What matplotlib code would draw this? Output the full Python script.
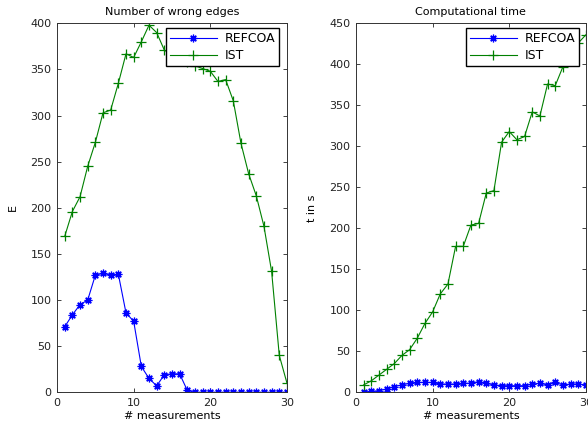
import numpy as np
import matplotlib.pyplot as plt

plt.rcParams['font.family'] = ['DejaVu Sans']

# --- DATA ---
measurements = list(range(1, 31))

edges_refcoa = [71, 84, 95, 100, 127, 129, 127, 128, 86, 77,
                28, 15, 7, 19, 20, 20, 2, 0, 0, 0,
                0, 0, 0, 0, 0, 0, 0, 0, 0, 0]
edges_ist = [169, 196, 212, 245, 271, 303, 306, 335, 367, 363,
             380, 398, 390, 371, 366, 362, 358, 354, 351, 348,
             337, 339, 316, 270, 237, 213, 180, 131, 40, 10]

time_refcoa = [0, 1, 2, 4, 7, 9, 11, 12, 12, 12,
               10, 10, 10, 11, 11, 13, 11, 9, 8, 8,
               8, 8, 10, 11, 9, 12, 9, 10, 10, 9]
time_ist = [9, 14, 21, 28, 35, 45, 52, 66, 84, 98,
            120, 132, 178, 178, 204, 206, 243, 246, 305, 318,
            308, 312, 342, 337, 376, 374, 397, 412, 426, 436]

# matlab-style asterisk marker
ASTERISK = (8, 2, 0)

# --- PLOTTING ---
fig = plt.figure(figsize=(5.88, 4.30), dpi=100)
ax1 = fig.add_axes([0.097, 0.0877, 0.391, 0.858])
ax2 = fig.add_axes([0.6054, 0.0877, 0.391, 0.858])


def style_axes(ax, ymax, ystep, legend_right):
    ax.set_xlim(0, 30)
    ax.set_ylim(0, ymax)
    ax.set_xticks([0, 10, 20, 30])
    ax.set_yticks(np.arange(0, ymax + 1, ystep))
    ax.tick_params(direction='in', top=True, right=True, labelsize=8,
                   length=3, width=0.6, colors='#222222', pad=4)
    for s in ax.spines.values():
        s.set_color('#333333')
        s.set_linewidth(0.7)
    ax.legend(loc='upper right', bbox_to_anchor=(legend_right, 0.9865),
              fontsize=9, fancybox=False, framealpha=1,
              edgecolor='black', borderpad=0.3, handlelength=3.8,
              labelspacing=0.35, borderaxespad=0, handletextpad=0.6)


def draw(ax, refcoa, ist):
    ax.plot(measurements, refcoa, '-', color='blue', marker=ASTERISK,
            markersize=5.5, markeredgewidth=0.9, linewidth=0.8, label='REFCOA')
    ax.plot(measurements, ist, '-', color='green', marker='+',
            markersize=6.5, markeredgewidth=0.9, linewidth=0.8, label='IST')


draw(ax1, edges_refcoa, edges_ist)
style_axes(ax1, 400, 50, 0.965)
ax1.set_title('Number of wrong edges', fontsize=8, pad=6)
ax1.set_xlabel('# measurements', fontsize=8, labelpad=2)
ax1.set_ylabel('E', fontsize=8, labelpad=9)

draw(ax2, time_refcoa, time_ist)
style_axes(ax2, 450, 50, 0.9696)
ax2.set_title('Computational time', fontsize=8, pad=6)
ax2.set_xlabel('# measurements', fontsize=8, labelpad=2)
ax2.set_ylabel('t in s', fontsize=8, labelpad=9)

plt.savefig('out.png', dpi=100)
